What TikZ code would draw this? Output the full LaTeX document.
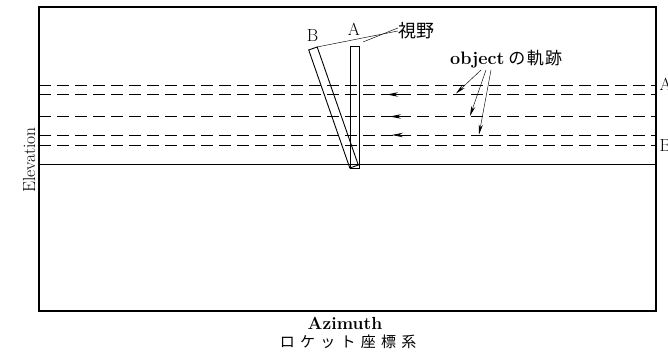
\documentclass[tikz,border=0pt]{standalone}
\usepackage{fontspec}
\newfontfamily\jp{Noto Sans CJK JP}
\usetikzlibrary{arrows.meta}
\begin{document}
\begin{tikzpicture}[x=1pt,y=-1pt,
  frame/.style={line width=1.2pt},
  fov/.style={draw, line width=0.9pt, minimum width=9pt, inner sep=0pt, outer sep=0pt},
  traj/.style={line width=0.8pt, dash pattern=on 12pt off 6pt},
  base/.style={line width=0.9pt},
  lead/.style={line width=0.45pt},
  mov/.style={line width=0.8pt,-{Stealth[length=11pt,width=4.5pt]}},
  ptr/.style={line width=0.45pt,-{Stealth[length=10pt,width=4pt]}},
  lbl/.style={inner sep=0pt, font=\fontsize{17.5}{17.5}\selectfont},
]
\useasboundingbox (0,0) rectangle (668,358);
% frame
\coordinate (tl) at (39,7);
\coordinate (br) at (656,311);
\draw[frame] (tl) rectangle (br);
% trajectories
\foreach \yy/\nm in {85/t1,94.5/t2,116.5/t3,135/t4,145/t5}{
  \coordinate (\nm w) at (39,\yy);
  \coordinate (\nm e) at (656,\yy);
  \draw[traj] (\nm w) -- (\nm e);
}
\coordinate (hw) at (39,164.5);
\coordinate (he) at (656,164.5);
\draw[base] (hw) -- (he);
% fields of view
\node[fov, minimum height=122pt] (fovA) at (354.5,107) {};
\node[fov, minimum height=125pt, rotate=19.2] (fovB) at (333.5,107.5) {};
% labels A B
\node[lbl, anchor=base] (labA) at (354,35.5) {A};
\node[lbl, anchor=base] (labB) at (312.5,41.5) {B};
% 視野
\node[inner sep=0pt, font=\jp\fontsize{18}{18}\selectfont] (shiya) at (416,31) {視野};
\coordinate (sa) at (363,42);
\draw[lead] (fovB.north east) -- (shiya.west);
\draw[lead] (sa) -- ([yshift=3pt]shiya.west);
% motion arrows
\foreach \x/\yy/\nm in {387/94.5/m1,390/116.5/m2,392/135/m3}{
  \coordinate (\nm s) at (\x+12,\yy);
  \coordinate (\nm t) at (\x,\yy);
  \draw[mov] (\nm s) -- (\nm t);
}
% object label
\node[inner sep=0pt, anchor=base west] (obj) at (450,65)
  {\fontsize{18}{18}\selectfont\bfseries object\hspace{4pt}\jp\mdseries\fontsize{17}{17}\selectfont\addfontfeature{LetterSpace=8}の軌跡};
\coordinate (o1) at (481,70);
\coordinate (o2) at (486,70);
\coordinate (o3) at (491,70);
\coordinate (p1) at (456,93.5);
\coordinate (p2) at (470,116);
\coordinate (p3) at (479,134.5);
\draw[ptr] (o1) -- (p1);
\draw[ptr] (o2) -- (p2);
\draw[ptr] (o3) -- (p3);
% right labels
\node[lbl, anchor=base west] (rA) at (659.5,90.5) {A};
\node[lbl, anchor=base west] (rB) at (659.5,151) {B};
% axes
\node[lbl, rotate=90, anchor=base] (elev) at (35,160) {Elevation};
\node[lbl, anchor=base, font=\bfseries\fontsize{17.5}{17.5}\selectfont] (azi) at (345,329) {Azimuth};
\node[inner sep=0pt, anchor=base, font=\jp\fontsize{15}{15}\selectfont\addfontfeature{LetterSpace=35}] (rocket) at (348,347) {ロケット座標系};
\end{tikzpicture}
\end{document}
